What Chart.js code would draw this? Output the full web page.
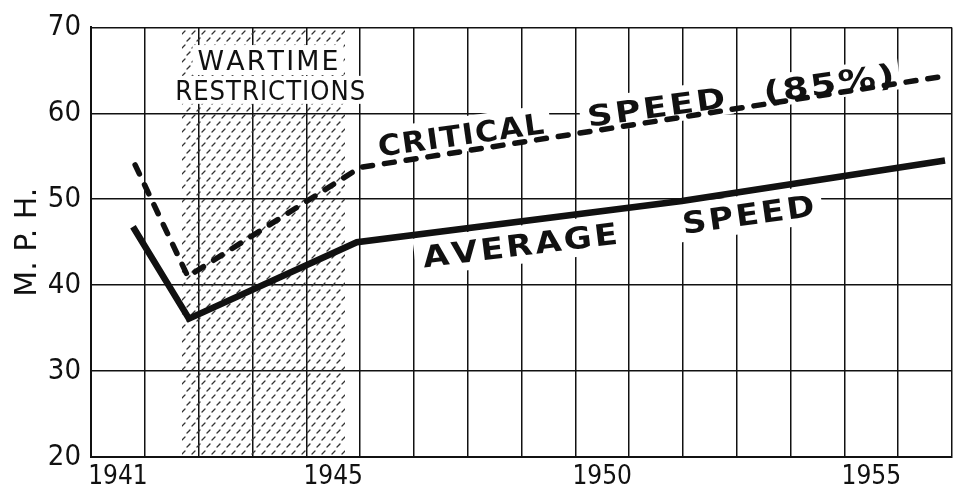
<!DOCTYPE html>
<html>
<head>
<meta charset="utf-8">
<title>M. P. H.</title>
<script src="https://cdn.jsdelivr.net/npm/chart.js@4.4.1/dist/chart.umd.min.js"></script>
<style>
  html, body { margin: 0; padding: 0; background: #fff; }
  canvas { display: block; }
</style>
</head>
<body>
<canvas id="speedChart" width="958" height="489"></canvas>
<script>
// Each year owns one column; the year label sits in the middle of it
const firstYear = 1941;
const lastYear = 1956;
const yearLabels = [1941, 1945, 1950, 1955];
const speedTicks = [20, 30, 40, 50, 60, 70];

const averageYears = [1941.28, 1942.32, 1945.44, 1951.48, 1956.37];
const averageSpeed = [46.8, 36.1, 45.0, 49.8, 54.5];

const criticalYears = [1941.32, 1942.30, 1945.50, 1956.33];
const criticalSpeed = [54.0, 41.0, 53.7, 64.3];

const wartimeYears = [1942.19, 1945.22];

// Lettering on the chart (position in axis units, width in px)
const notes = [
  { text: 'WARTIME', x: 1943.79, y: 66.2, angle: 0, width: 141, pad: 5, size: 26, weight: 'normal', spacing: 0.08 },
  { text: 'RESTRICTIONS', x: 1943.83, y: 62.73, angle: 0, width: 190, pad: 4, size: 26, weight: 'normal', spacing: 0.04 },
  { text: 'CRITICAL', x: 1947.37, y: 57.53, angle: -8, width: 167, pad: 7, size: 29, weight: 'bold', spacing: 0.05 },
  { text: 'SPEED', x: 1951.0, y: 60.76, angle: -8, width: 139, pad: 7, size: 29, weight: 'bold', spacing: 0.08 },
  { text: '(85%)', x: 1954.21, y: 63.53, angle: -8, width: 132, pad: 5, size: 30, weight: 'bold', spacing: 0.06 },
  { text: 'AVERAGE', x: 1948.47, y: 44.71, angle: -7, width: 196, pad: 8, size: 30, weight: 'bold', spacing: 0.08 },
  { text: 'SPEED', x: 1952.71, y: 48.29, angle: -8, width: 133, pad: 8, size: 30, weight: 'bold', spacing: 0.08 }
];

const ink = '#111';

function toPoints(xs, ys) {
  return xs.map((x, i) => ({ x: x, y: ys[i] }));
}

// small slanted dashes used to shade the wartime years
function makeHatch(ctx) {
  const tile = document.createElement('canvas');
  tile.width = 10;
  tile.height = 14;
  const t = tile.getContext('2d');
  t.strokeStyle = '#333';
  t.lineWidth = 1.3;
  t.lineCap = 'round';
  [[2, 6], [7, 13]].forEach(([px, py]) => {
    [0, -10].forEach(shift => {
      t.beginPath();
      t.moveTo(px + shift, py);
      t.lineTo(px + shift + 3, py - 3);
      t.stroke();
    });
  });
  return ctx.createPattern(tile, 'repeat');
}

function capHeight(ctx) {
  return ctx.measureText('H').actualBoundingBoxAscent;
}

function placeNote(ctx, scales, n) {
  ctx.translate(scales.x.getPixelForValue(n.x), scales.y.getPixelForValue(n.y));
  ctx.rotate(n.angle * Math.PI / 180);
  ctx.font = n.weight + ' ' + n.size + 'px "DejaVu Sans"';
}

// letters with a little air between them, stretched to the given width
function drawSpaced(ctx, n, baseline) {
  const chars = [...n.text];
  const widths = chars.map(c => ctx.measureText(c).width);
  const gap = n.spacing * n.size;
  const natural = widths.reduce((a, b) => a + b, 0) + gap * (chars.length - 1);
  ctx.scale(n.width / natural, 1);
  let cx = -natural / 2;
  chars.forEach((c, i) => {
    ctx.fillText(c, cx, baseline);
    cx += widths[i] + gap;
  });
}

const lettering = {
  id: 'lettering',
  beforeDatasetsDraw(chart) {
    const { ctx, chartArea, scales } = chart;
    ctx.save();
    const x0 = scales.x.getPixelForValue(wartimeYears[0]);
    const x1 = scales.x.getPixelForValue(wartimeYears[1]);
    ctx.fillStyle = makeHatch(ctx);
    ctx.fillRect(x0, chartArea.top + 1, x1 - x0, chartArea.bottom - chartArea.top - 2);
    ctx.restore();

    // white ground under each piece of lettering
    notes.forEach(n => {
      ctx.save();
      placeNote(ctx, scales, n);
      const h = capHeight(ctx);
      ctx.fillStyle = '#fff';
      ctx.fillRect(-n.width / 2 - n.pad, -h / 2 - n.pad, n.width + 2 * n.pad, h + 2 * n.pad);
      ctx.restore();
    });
  },
  afterDatasetsDraw(chart) {
    const { ctx, scales } = chart;
    notes.forEach(n => {
      ctx.save();
      placeNote(ctx, scales, n);
      ctx.fillStyle = ink;
      ctx.textBaseline = 'alphabetic';
      drawSpaced(ctx, n, capHeight(ctx) / 2);
      ctx.restore();
    });
  }
};

document.addEventListener('DOMContentLoaded', function() {
  const data = {
    datasets: [{
      label: 'Critical speed (85%)',
      data: toPoints(criticalYears, criticalSpeed),
      borderColor: ink,
      borderWidth: 5.5,
      borderDash: [10, 12],
      borderCapStyle: 'round',
      borderJoinStyle: 'miter',
      pointRadius: 0,
      tension: 0
    }, {
      label: 'Average speed',
      data: toPoints(averageYears, averageSpeed),
      borderColor: ink,
      borderWidth: 6.5,
      borderCapStyle: 'butt',
      borderJoinStyle: 'miter',
      pointRadius: 0,
      tension: 0
    }]
  };

  const options = {
    responsive: false,
    animation: false,
    layout: { padding: { top: 24, right: 6, left: 0, bottom: 0 } },
    plugins: {
      legend: { display: false },
      tooltip: { enabled: false }
    },
    scales: {
      x: {
        type: 'linear',
        min: firstYear - 0.5,
        max: lastYear + 0.5,
        afterFit(scale) { scale.height = 32; },
        grid: {
          drawTicks: false,
          lineWidth: 1.5,
          color: ctx => (ctx.tick && Math.abs(ctx.tick.value % 1) > 0.25) ? ink : 'rgba(0,0,0,0)'
        },
        border: { color: ink, width: 2 },
        ticks: {
          stepSize: 0.5,
          autoSkip: false,
          maxRotation: 0,
          minRotation: 0,
          padding: 5,
          color: ink,
          font: { family: '"DejaVu Sans Condensed", "DejaVu Sans"', size: 26 },
          callback: v => yearLabels.includes(v) ? String(v) : ''
        }
      },
      y: {
        min: speedTicks[0],
        max: speedTicks[speedTicks.length - 1],
        afterFit(scale) { scale.width = 91; },
        grid: { drawTicks: false, lineWidth: 1.5, color: ink },
        border: { color: ink, width: 2 },
        ticks: {
          stepSize: speedTicks[1] - speedTicks[0],
          padding: 10,
          color: ink,
          font: { family: '"DejaVu Sans Condensed", "DejaVu Sans"', size: 29 }
        },
        title: {
          display: true,
          text: 'M. P. H.',
          color: ink,
          padding: { top: 10, bottom: 0 },
          font: { family: '"DejaVu Sans"', size: 30 }
        }
      }
    }
  };

  const ctx = document.getElementById('speedChart').getContext('2d');
  new Chart(ctx, {
    type: 'line',
    data: data,
    options: options,
    plugins: [lettering]
  });
});
</script>
</body>
</html>
